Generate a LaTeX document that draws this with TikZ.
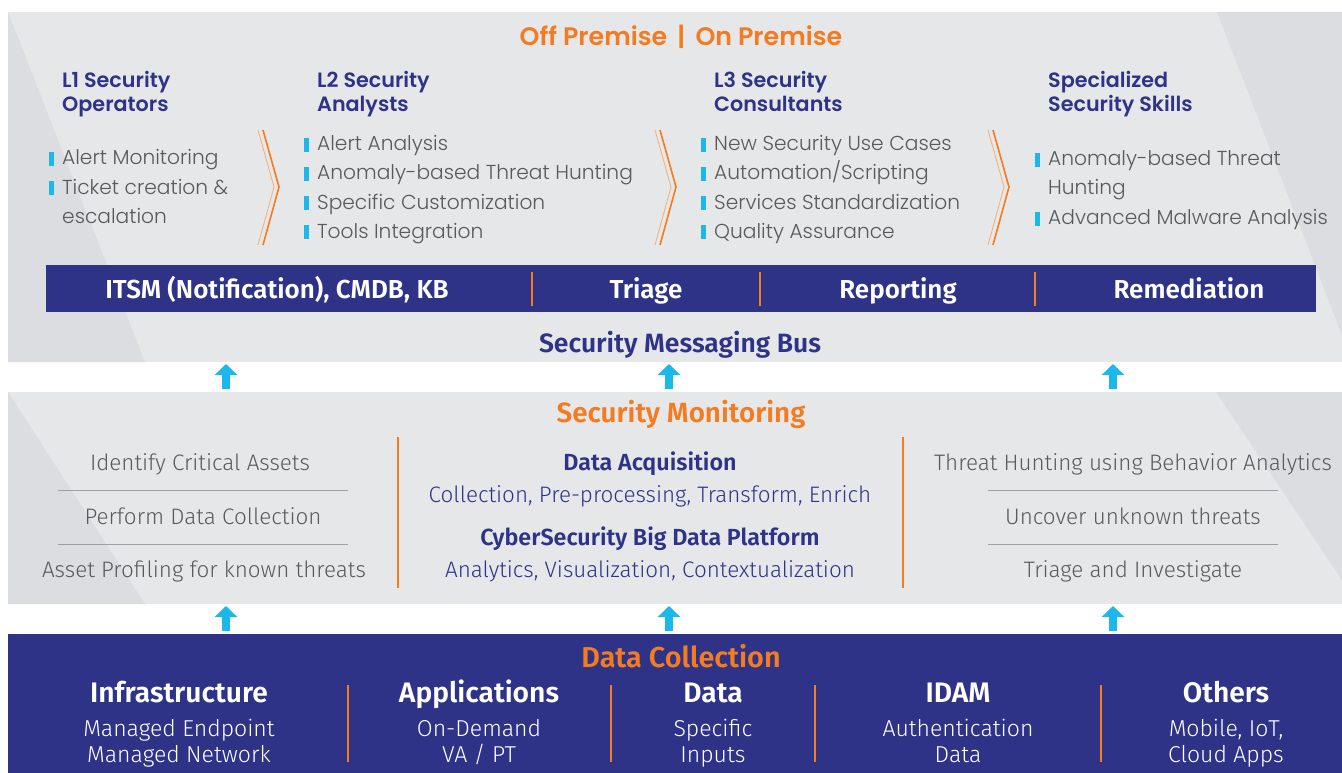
\documentclass[tikz,border=0pt]{standalone}
\usepackage{fontspec}
\setmainfont{Poppins}[UprightFont=* Light, BoldFont=* SemiBold]
\newfontfamily\hum{Fira Sans}[UprightFont=* Light, BoldFont=* SemiBold]
\usetikzlibrary{arrows.meta}
\definecolor{panel}{HTML}{E6E7E9}
\definecolor{paneld}{HTML}{DCDDE0}
\definecolor{navy}{HTML}{2E3388}
\definecolor{orng}{HTML}{F47B20}
\definecolor{orngl}{HTML}{F9AE6E}
\definecolor{cyn}{HTML}{1CB8EC}
\definecolor{txt}{HTML}{5A5A5C}
\definecolor{lgray}{HTML}{9D9FA2}
\tikzset{
  head/.style={anchor=base west, inner sep=0pt, text=navy, font=\fontsize{20.7}{24}\selectfont\bfseries},
  item/.style={anchor=base west, inner sep=0pt, text=txt, font=\fontsize{20.2}{24}\selectfont},
  otitle/.style={anchor=base, inner sep=0pt, text=orng, font=\fontsize{25.3}{28}\selectfont\bfseries},
  bartext/.style={anchor=base, inner sep=0pt, text=white, font=\hum\fontsize{26}{30}\selectfont\bfseries},
  mtext/.style={anchor=base, inner sep=0pt, text=txt, font=\hum\fontsize{22.4}{26}\selectfont},
  ntext/.style={anchor=base, inner sep=0pt, text=navy, font=\hum\fontsize{22.4}{26}\selectfont},
  nhead/.style={anchor=base, inner sep=0pt, text=navy, font=\hum\fontsize{23.3}{26}\selectfont\bfseries},
  bhead/.style={anchor=base, inner sep=0pt, text=white, font=\hum\fontsize{28.2}{32}\selectfont\bfseries},
  btext/.style={anchor=base, inner sep=0pt, text=white, font=\hum\fontsize{23}{26}\selectfont},
  osep/.style={draw=orng, line width=1.2pt},
  gline/.style={draw=lgray, line width=1pt},
  uparrow/.style={draw=cyn, line width=8pt, -{Triangle[width=22pt,length=11pt]}, shorten >=0pt},
  chev/.style={draw=orng, line width=1.6pt},
  chevl/.style={draw=orngl, line width=0.8pt},
}
\newcommand\bitem[3]{\node[item] (#1) at (#2) {#3};
  \fill[cyn] ([xshift=-13pt,yshift=-1pt]#1.base west) rectangle ++(4.5pt,14pt);}
\begin{document}
\begin{tikzpicture}[x=1pt,y=-1pt]
\useasboundingbox (0,0) rectangle (1342,773);
\fill[white] (0,0) rectangle (1342,773);
% panels
\fill[panel] (8,12) rectangle (1342,362);
\fill[paneld] (8,12) -- (145,362) -- (8,362) -- cycle;
\fill[paneld] (1217,12) -- (1342,12) -- (1342,335) -- cycle;
\fill[panel] (8,392) rectangle (1342,604);
\fill[paneld] (8,392) -- (145,604) -- (8,604) -- cycle;
\fill[paneld] (1216,392) -- (1342,392) -- (1342,580) -- cycle;
\fill[navy] (8,634) rectangle (1342,773);
% top title
\node[otitle] (prem) at (681,46) {Off Premise \,|\, On Premise};
% headings
\node[head] (h1a) at (62,88) {L1 Security};
\node[head] (h1b) at (62,112) {Operators};
\node[head] (h2a) at (317,88) {L2 Security};
\node[head] (h2b) at (317,112) {Analysts};
\node[head] (h3a) at (714,88) {L3 Security};
\node[head] (h3b) at (714,112) {Consultants};
\node[head] (h4a) at (1048,88) {Specialized};
\node[head] (h4b) at (1048,112) {Security Skills};
% items
\bitem{a1}{62,165}{Alert Monitoring}
\bitem{a2}{62,194}{Ticket creation \&}
\node[item] (a3) at (62,223) {escalation};
\bitem{b1}{317,151}{Alert Analysis}
\bitem{b2}{317,180}{Anomaly-based Threat Hunting}
\bitem{b3}{317,209}{Specific Customization}
\bitem{b4}{317,238}{Tools Integration}
\bitem{c1}{714,151}{New Security Use Cases}
\bitem{c2}{714,180}{Automation/Scripting}
\bitem{c3}{714,209}{Services Standardization}
\bitem{c4}{714,238}{Quality Assurance}
\bitem{d1}{1048,166}{Anomaly-based Threat}
\node[item] (d2) at (1048,195) {Hunting};
\bitem{d3}{1048,225}{Advanced Malware Analysis}
% chevrons
\draw[chevl] (258,130) -- (274,187) -- (258,245);
\draw[chev] (263,130) -- (279,187) -- (263,245);
\draw[chevl] (655,130) -- (671,187) -- (655,245);
\draw[chev] (660,130) -- (676,187) -- (660,245);
\draw[chevl] (988,130) -- (1004,187) -- (988,245);
\draw[chev] (993,130) -- (1009,187) -- (993,245);
% blue bar
\fill[navy] (46,265) rectangle (1316,312);
\node[bartext] (itsm) at (277,298) {ITSM (Notification), CMDB, KB};
\node[bartext] (tri) at (646,298) {Triage};
\node[bartext] (rep) at (898,298) {Reporting};
\node[bartext] (rem) at (1189,298) {Remediation};
\draw[osep] (532,272) -- (532,306);
\draw[osep] (760,272) -- (760,306);
\draw[osep] (1035,272) -- (1035,306);
\node[anchor=base, inner sep=0pt, text=navy, font=\hum\fontsize{26.5}{30}\selectfont\bfseries] (bus) at (680,352) {Security Messaging Bus};
% arrows between top and middle
\coordinate (m1) at (226,389); \coordinate (t1) at (226,364);
\coordinate (m2) at (669,389); \coordinate (t2) at (669,364);
\coordinate (m3) at (1113,389); \coordinate (t3) at (1113,364);
\draw[uparrow] (m1) -- (t1);
\draw[uparrow] (m2) -- (t2);
\draw[uparrow] (m3) -- (t3);
% middle
\node[otitle, font=\hum\fontsize{27.8}{30}\selectfont\bfseries] (mon) at (681,422) {Security Monitoring};
\node[mtext] (l1) at (200,470) {Identify Critical Assets};
\node[mtext] (l2) at (203,524) {Perform Data Collection};
\node[mtext] (l3) at (204,577) {Asset Profiling for known threats};
\draw[gline] (58,490) -- (348,490);
\draw[gline] (58,544) -- (348,544);
\draw[osep] (398,437) -- (398,588);
\node[nhead] (da) at (650,470) {Data Acquisition};
\node[ntext] (dat) at (650,502) {Collection, Pre-processing, Transform, Enrich};
\node[nhead] (cb) at (650,545) {CyberSecurity Big Data Platform};
\node[ntext] (cbt) at (650,577) {Analytics, Visualization, Contextualization};
\draw[osep] (903,437) -- (903,588);
\node[mtext] (r1) at (1133,470) {Threat Hunting using Behavior Analytics};
\node[mtext] (r2) at (1133,524) {Uncover unknown threats};
\node[mtext] (r3) at (1133,577) {Triage and Investigate};
\draw[gline] (988,490) -- (1278,490);
\draw[gline] (988,544) -- (1278,544);
% arrows between middle and bottom
\coordinate (n1) at (226,631); \coordinate (s1) at (226,606);
\coordinate (n2) at (669,631); \coordinate (s2) at (669,606);
\coordinate (n3) at (1113,631); \coordinate (s3) at (1113,606);
\draw[uparrow] (n1) -- (s1);
\draw[uparrow] (n2) -- (s2);
\draw[uparrow] (n3) -- (s3);
% bottom
\node[otitle, font=\hum\fontsize{28.8}{32}\selectfont\bfseries] (dc) at (681,667) {Data Collection};
\node[bhead] (inf) at (179,702) {Infrastructure};
\node[btext] (inf1) at (179,736) {Managed Endpoint};
\node[btext] (inf2) at (179,762) {Managed Network};
\node[bhead] (app) at (479,702) {Applications};
\node[btext] (app1) at (479,736) {On-Demand};
\node[btext] (app2) at (479,762) {VA / PT};
\node[bhead] (dat0) at (713,702) {Data};
\node[btext] (dat1) at (713,736) {Specific};
\node[btext] (dat2) at (713,762) {Inputs};
\node[bhead] (idam) at (958,702) {IDAM};
\node[btext] (idam1) at (958,736) {Authentication};
\node[btext] (idam2) at (958,762) {Data};
\node[bhead] (oth) at (1226,702) {Others};
\node[btext] (oth1) at (1226,736) {Mobile, IoT,};
\node[btext] (oth2) at (1226,762) {Cloud Apps};
\draw[osep] (348,685) -- (348,762);
\draw[osep] (611,685) -- (611,762);
\draw[osep] (815,685) -- (815,762);
\draw[osep] (1101,685) -- (1101,762);
\end{tikzpicture}
\end{document}
